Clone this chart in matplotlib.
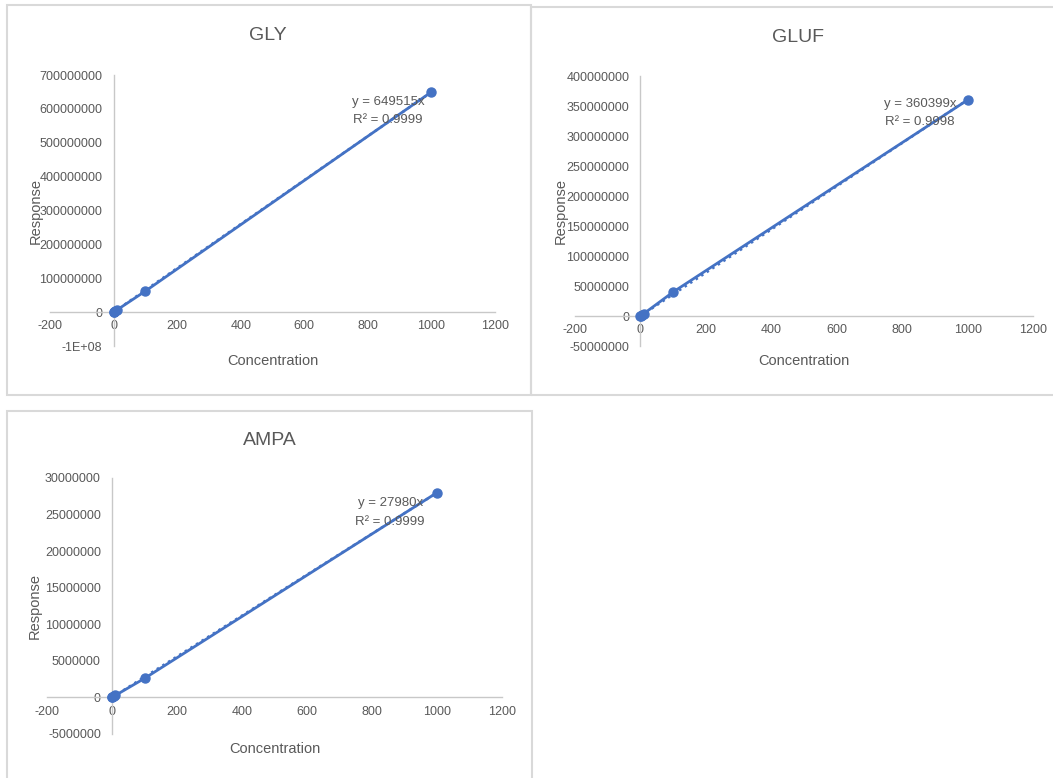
import matplotlib
matplotlib.use('Agg')
import matplotlib.pyplot as plt
from matplotlib.patches import Rectangle
from matplotlib.ticker import MultipleLocator, FuncFormatter

plt.rcParams['font.family'] = ['Liberation Sans', 'DejaVu Sans']
plt.rcParams['axes.unicode_minus'] = False

# 标准曲线数据
conc = [0, 1, 5, 10, 100, 1000]
gly_resp = [0, 6.0e5, 3.1e6, 6.0e6, 6.2e7, 6.5e8]
gluf_resp = [0, 3.7e5, 1.9e6, 3.8e6, 4.0e7, 3.6e8]
ampa_resp = [0, 2.8e4, 1.4e5, 2.7e5, 2.6e6, 2.8e7]

gly_slope, gly_r2 = 649515, 0.9999
gluf_slope, gluf_r2 = 360399, 0.9998
ampa_slope, ampa_r2 = 27980, 0.9999

BLUE = '#4472C4'
GRAY = '#595959'
W, H = 1053, 778


def px_box(x0, y0, x1, y1):
    # 像素坐标 -> figure 坐标
    return [x0 / W, 1 - y1 / H, (x1 - x0) / W, (y1 - y0) / H]


def excel_fmt(v, pos):
    # 模仿 Excel 常规格式，过长的数字改成科学计数
    s = '%d' % round(v)
    if len(s) > 9:
        s = '%.0E' % v
    return s


def draw(ax, name, resp, slope, r2, ylim, ystep, title_xy, xlab_y, ylab_x, eq_xy):
    trend_x = [0, conc[-1]]
    trend_y = [slope * x for x in trend_x]
    ax.plot(trend_x, trend_y, ':', color=BLUE, lw=1.8, zorder=2)
    ax.plot(conc, resp, '-o', color=BLUE, lw=2, ms=6.5, zorder=3)

    ax.set_xlim(-200, 1200)
    ax.set_ylim(*ylim)
    ax.xaxis.set_major_locator(MultipleLocator(200))
    ax.yaxis.set_major_locator(MultipleLocator(ystep))
    ax.yaxis.set_major_formatter(FuncFormatter(excel_fmt))

    for side in ['top', 'right']:
        ax.spines[side].set_visible(False)
    ax.spines['left'].set_position(('data', 0))
    ax.spines['bottom'].set_position(('data', 0))
    for side in ['left', 'bottom']:
        ax.spines[side].set_color('#c8c8c8')
        ax.spines[side].set_linewidth(1)
    ax.tick_params(axis='both', length=0, labelsize=9, labelcolor=GRAY)
    ax.tick_params(axis='y', pad=8)
    ax.tick_params(axis='x', pad=6)
    ax.patch.set_alpha(0)

    ax.text(title_xy[0], title_xy[1], name, transform=ax.transAxes, ha='center', va='center',
            fontsize=14, color=GRAY)
    ax.text(0.5, xlab_y, 'Concentration', transform=ax.transAxes, ha='center', va='center',
            fontsize=10.5, color=GRAY)
    ax.text(ylab_x, 0.5, 'Response', transform=ax.transAxes, ha='center', va='center',
            rotation=90, fontsize=10.5, color=GRAY)
    ax.text(eq_xy[0], eq_xy[1], 'y = %dx\nR² = %.4f' % (slope, r2), transform=ax.transAxes,
            ha='center', va='center', fontsize=9.5, color=GRAY, linespacing=1.7, zorder=4)


fig = plt.figure(figsize=(W / 100, H / 100), dpi=100)

# 图表外框
for (x0, y0, x1, y1) in [(7, 5, 531, 395), (531, 7, 1060, 395), (7, 411, 532, 790)]:
    fig.patches.append(Rectangle((x0 / W, 1 - y1 / H), (x1 - x0) / W, (y1 - y0) / H,
                                 transform=fig.transFigure, fill=False,
                                 edgecolor='#d9d9d9', lw=1.5))

ax1 = fig.add_axes(px_box(50, 75, 495, 346))
draw(ax1, 'GLY', gly_resp, gly_slope, gly_r2, (-1e8, 7e8), 1e8,
     (0.49, 1.144), -0.055, -0.033, (0.76, 0.868))

ax2 = fig.add_axes(px_box(575, 76, 1033, 346))
draw(ax2, 'GLUF', gluf_resp, gluf_slope, gluf_r2, (-5e7, 4e8), 5e7,
     (0.487, 1.141), -0.056, -0.032, (0.753, 0.863))

ax3 = fig.add_axes(px_box(47, 478, 502, 734))
draw(ax3, 'AMPA', ampa_resp, ampa_slope, ampa_r2, (-5e6, 3e7), 5e6,
     (0.49, 1.148), -0.059, -0.026, (0.754, 0.865))

fig.savefig('out.png', dpi=100)
